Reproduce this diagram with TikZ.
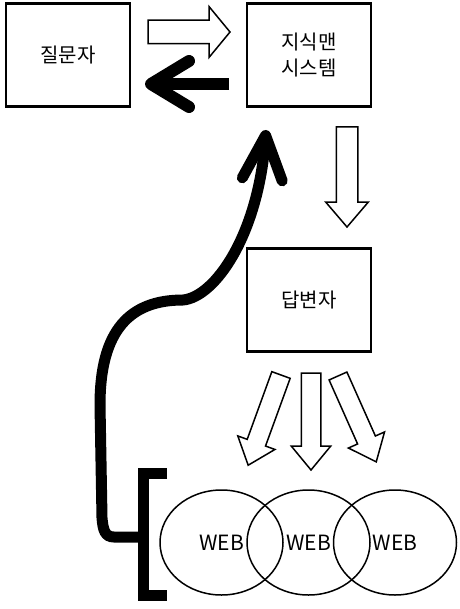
\documentclass[tikz,border=0pt]{standalone}
\usepackage{fontspec}
\setmainfont{Noto Sans CJK KR}
\usetikzlibrary{positioning,shapes.geometric,shapes.arrows,arrows.meta}

\begin{document}
\begin{tikzpicture}[x=1pt, y=-1pt,
    box/.style={draw, line width=2.6pt, minimum width=124pt, minimum height=103pt, inner sep=0pt, outer sep=0pt, align=center, font=\fontsize{20}{26}\selectfont},
    web/.style={ellipse, draw, line width=1.5pt, minimum width=123pt, minimum height=105pt, inner sep=0pt, font=\fontsize{21}{24}\selectfont},
    hollow/.style={single arrow, draw, line width=1.5pt, inner xsep=0pt, outer sep=0pt, minimum width=0pt, anchor=tail},
    fat/.style={line width=12pt},
    barb/.style={-{Straight Barb[length=38pt, width=46pt, round]}}]
    \useasboundingbox (0,0) rectangle (459,609);

    % the three boxes
    \node[box] (asker) at (68,55) {질문자};
    \node[box, right=117pt of asker] (sys) {지식맨\\시스템};
    \node[box, below=142pt of sys] (answerer) {답변자};

    % the web
    \node[web] (web1) at (221.5,542.5) {WEB};
    \node[web] (web2) at (308.5,542.5) {WEB};
    \node[web] (web3) at (395,542.5) {WEB};

    % hollow arrows
    \node[hollow, inner ysep=11pt, single arrow head extend=13.5pt, single arrow tip angle=101, minimum height=82pt] (q2s) at (148,32) {};
    \node[hollow, inner ysep=10pt, single arrow head extend=10.5pt, single arrow tip angle=81, minimum height=100pt, rotate=-90] (s2a) at (347,127) {};
    \foreach \i/\x/\y/\a/\l in {1/281/375/-110/96, 2/311/373/-90/97, 3/338/376/-66/94}
        \node[hollow, inner ysep=9pt, single arrow head extend=10pt, single arrow tip angle=79, minimum height=\l pt, rotate=\a] (a2w\i) at (\x,\y) {};

    % answer goes back to the asker
    \draw[fat, barb, shorten <=18pt, shorten >=15pt] ([yshift=-29pt]sys.west) -- ([yshift=-29pt]asker.east);

    % bracket round the web and the way back up
    \coordinate (brk) at (143,537);
    \coordinate (ret) at (266,130);
    \draw[line width=11pt] (167,473) -| (143,595) -- (167,595);
    \draw[line width=11pt, -{Straight Barb[length=44pt, width=40pt, round]}]
        (brk) -- (114,537) .. controls (105,537) and (103,530) .. (102,518)
        -- (100,405) .. controls (100,330) and (130,300) .. (183,300)
        .. controls (215,297) and (258,235) .. (ret);
\end{tikzpicture}
\end{document}
